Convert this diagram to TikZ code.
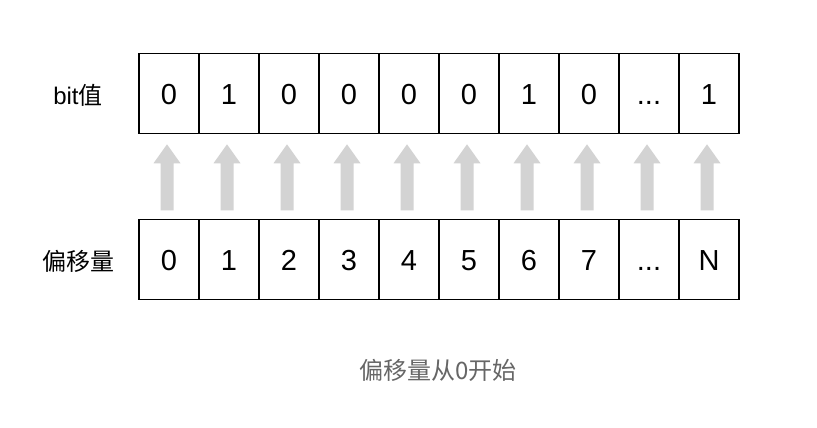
\documentclass[tikz,border=0pt]{standalone}
\usepackage{fontspec}
\setmainfont{Liberation Sans}
\newfontfamily\cjk{Noto Sans CJK SC}
\usetikzlibrary{calc}
\definecolor{arrowgray}{RGB}{211,211,211}
\definecolor{captiongray}{RGB}{102,102,102}
\newcommand\mydots{...}
\begin{document}
\begin{tikzpicture}[x=1pt,y=-1pt,
  cell/.style={draw=black,line width=1.6pt,minimum width=60pt,minimum height=80pt,inner sep=0pt,text height=21pt,text depth=0pt,font=\fontsize{29}{32}\selectfont,anchor=center},
  arrowfill/.style={fill=arrowgray,draw=none},
  lbl/.style={font=\fontsize{24}{28}\selectfont,anchor=center}]
\useasboundingbox (0,0) rectangle (817,428);
\foreach \v [count=\i from 0] in {0,1,0,0,0,0,1,0,\mydots,1}{
  \node[cell] (t\i) at (169+60*\i,93.5) {\v};
}
\foreach \v [count=\i from 0] in {0,1,2,3,4,5,6,7,\mydots,N}{
  \node[cell] (b\i) at (169+60*\i,259.5) {\v};
}
\foreach \i in {0,...,9}{
  \coordinate (a\i) at ($(t\i.south)+(-2,10)$);
  \fill[arrowfill] (a\i) -- ++(13.5,19) -- ++(-7,0) -- ++(0,47) -- ++(-13,0) -- ++(0,-47) -- ++(-7,0) -- cycle;
}
\node[lbl] (bitlbl) at (78,95) {bit\cjk 值};
\node[lbl] (offlbl) at (78,261) {\cjk 偏移量};
\node[font=\cjk\fontsize{24}{28}\selectfont,text=captiongray] (cap) at (438,370) {偏移量从0开始};
\end{tikzpicture}
\end{document}
